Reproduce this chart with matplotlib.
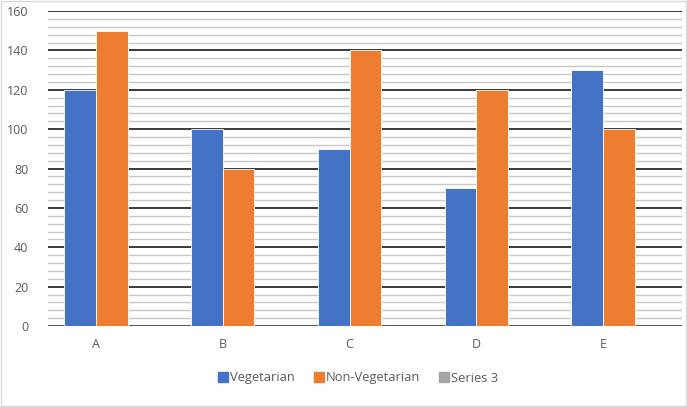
import matplotlib.pyplot as plt
from matplotlib.patches import Patch, Rectangle
import numpy as np

categories = ["A", "B", "C", "D", "E"]
vegetarian = [120, 100, 90, 70, 130]
non_vegetarian = [150, 80, 140, 120, 100]
series3 = [0, 0, 0, 0, 0]
y_ticks = [0, 20, 40, 60, 80, 100, 120, 140, 160]

plt.rcParams['font.family'] = ['Open Sans', 'DejaVu Sans']

fig = plt.figure(figsize=(6.87, 4.07), dpi=100)
left_px, right_px = 48, 682
ax = fig.add_axes([left_px / 687, 1 - 326 / 407, (right_px - left_px) / 687, 315 / 407])

x = np.arange(len(categories))
step = 126.75  # px between category centres
w = 0.249
ax.bar(x - w / 2, vegetarian, w, color="#4472C4", edgecolor="white", linewidth=0.6, zorder=3)
ax.bar(x + w / 2, non_vegetarian, w, color="#ED7D31", edgecolor="white", linewidth=0.6, zorder=3)

ax.set_xlim(-(96 - left_px) / step, 4 + (right_px - 603) / step)
ax.set_ylim(0, 160)
ax.set_yticks(y_ticks)
ax.set_yticks(np.arange(0, 161, 4), minor=True)
ax.set_xticks(x)
ax.set_xticklabels(categories)

ax.grid(axis="y", which="minor", color="#C8C8C8", linewidth=1.0, zorder=0)
ax.grid(axis="y", which="major", color="#3A3A3A", linewidth=1.4, zorder=1)
ax.tick_params(axis="both", which="both", length=0, labelsize=9, labelcolor="#595959")
ax.tick_params(axis="y", pad=14)
ax.tick_params(axis="x", pad=9)
for s in ax.spines.values():
    s.set_visible(False)
ax.axhline(0, color="#D9D9D9", linewidth=1, zorder=2)

handles = [Patch(color="#4472C4"), Patch(color="#ED7D31"), Patch(color="#A5A5A5")]
fig.legend(handles, ["Vegetarian", "Non-Vegetarian", "Series 3"], loc="center",
           bbox_to_anchor=(358 / 687, 1 - 378 / 407), ncol=3, frameon=False,
           fontsize=9.3, labelcolor="#595959", handlelength=0.75, handleheight=0.75,
           handletextpad=0.15, columnspacing=1.5)

fig.patches.append(Rectangle((0.002, 0.002), 0.996, 0.996, transform=fig.transFigure,
                             fill=False, edgecolor="#D9D9D9", linewidth=1))

fig.savefig("out.png", dpi=100)
